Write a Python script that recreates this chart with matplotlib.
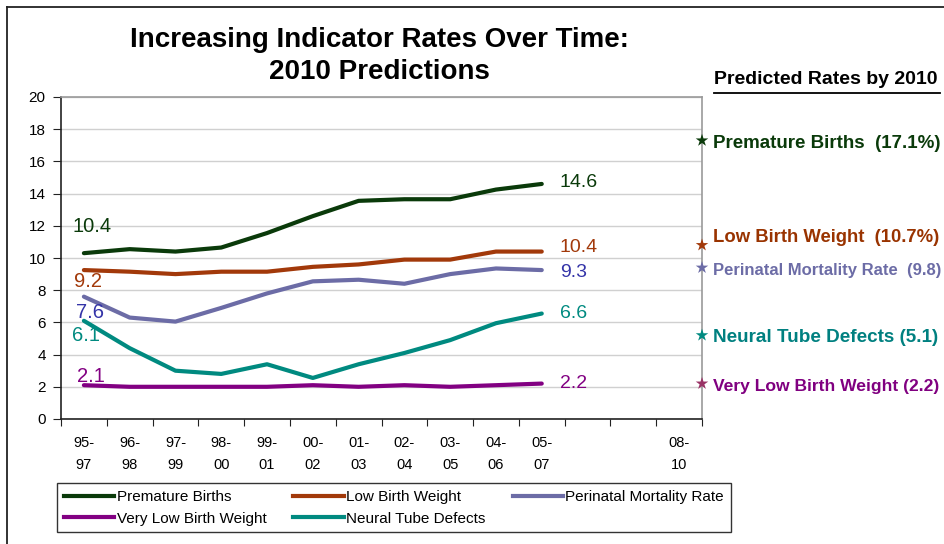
import numpy as np
import matplotlib
matplotlib.use("Agg")
import matplotlib.pyplot as plt
from matplotlib.lines import Line2D

plt.rcParams['font.family'] = ['Liberation Sans', 'DejaVu Sans']

# data
periods = ["95-\n97", "96-\n98", "97-\n99", "98-\n00", "99-\n01", "00-\n02", "01-\n03",
           "02-\n04", "03-\n05", "04-\n06", "05-\n07", "", "", "08-\n10"]

premature = [10.3, 10.55, 10.4, 10.65, 11.55, 12.6, 13.55, 13.65, 13.65, 14.25, 14.6]
low_bw = [9.25, 9.15, 9.0, 9.15, 9.15, 9.45, 9.6, 9.9, 9.9, 10.4, 10.4]
perinatal = [7.6, 6.3, 6.05, 6.9, 7.8, 8.55, 8.65, 8.4, 9.0, 9.35, 9.25]
very_low = [2.1, 2.0, 2.0, 2.0, 2.0, 2.1, 2.0, 2.1, 2.0, 2.1, 2.2]
neural = [6.1, 4.4, 3.0, 2.8, 3.4, 2.55, 3.4, 4.1, 4.9, 5.95, 6.55]

names = ["Premature Births", "Low Birth Weight", "Perinatal Mortality Rate",
         "Very Low Birth Weight", "Neural Tube Defects"]
series = [premature, low_bw, perinatal, very_low, neural]
colors = ["#0a3a0a", "#a2390a", "#6c6ca6", "#820082", "#008a80"]

first_labels = ["10.4", "9.2", "7.6", "2.1", "6.1"]
last_labels = ["14.6", "10.4", "9.3", "2.2", "6.6"]
label_colors = ["#0a3a0a", "#a2390a", "#3434a8", "#820082", "#008a80"]
first_offsets = [(8, 27), (4, -11), (6, -16), (7, 9), (2, -15)]  # pixels
last_offsets = [(18, 1), (18, 4), (18, -2), (18, 0), (18, 0)]

# 2010 predictions (star markers + side text)
pred_text = ["Premature Births  (17.1%)", "Low Birth Weight  (10.7%)",
             "Perinatal Mortality Rate  (9.8)", "Neural Tube Defects (5.1)",
             "Very Low Birth Weight (2.2)"]
pred_star = [17.3, 10.8, 9.4, 5.2, 2.2]
pred_colors = ["#0a3a0a", "#993300", "#6c6ca6", "#008080", "#800080"]
star_colors = ["#0a3a0a", "#a2390a", "#6c6ca6", "#008a80", "#993366"]
pred_text_y = [143, 237, 270, 338, 387]  # figure pixels from top
pred_size = [13.5, 13.3, 12, 13.6, 12.6]

W, H = 944, 544
fig = plt.figure(figsize=(W / 100, H / 100), dpi=100)
ax = fig.add_axes([61 / W, 1 - 419 / H, (702 - 61) / W, (419 - 97) / H])

x = np.arange(len(premature))
for vals, c in zip(series, colors):
    ax.plot(x, vals, color=c, lw=3, solid_capstyle='round', zorder=3)

for vals, txt, c, off in zip(series, first_labels, label_colors, first_offsets):
    ax.annotate(txt, (0, vals[0]), xytext=off, textcoords='offset pixels',
                ha='center', va='center', color=c, fontsize=14.5)
for vals, txt, c, off in zip(series, last_labels, label_colors, last_offsets):
    ax.annotate(txt, (len(vals) - 1, vals[-1]), xytext=off, textcoords='offset pixels',
                ha='left', va='center', color=c, fontsize=14)

ax.scatter([len(periods) - 0.5] * len(pred_star), pred_star, marker='*', s=90,
           c=star_colors, clip_on=False, zorder=5, linewidths=0)

ax.set_xlim(-0.5, len(periods) - 0.5)
ax.set_ylim(0, 20)
ax.set_yticks(np.arange(0, 21, 2))
ax.set_xticks(np.arange(-0.5, len(periods), 1.0))
ax.set_xticklabels([])
ax.set_xticks(np.arange(len(periods)), minor=True)
ax.set_xticklabels(periods, minor=True, fontsize=10.5, linespacing=1.75)
ax.tick_params(axis='x', which='minor', length=0, pad=12)
ax.tick_params(axis='x', which='major', length=5, direction='out', color='#222222')
ax.tick_params(axis='y', length=6, direction='out', labelsize=11, color='#222222', pad=5)
ax.grid(axis='y', color='#d0d0d0', lw=1)
ax.set_axisbelow(True)
for s in ['left', 'bottom']:
    ax.spines[s].set_color('#222222')
    ax.spines[s].set_linewidth(1.2)
for s in ['top', 'right']:
    ax.spines[s].set_color('#999999')
    ax.spines[s].set_linewidth(1.2)

# legend (row-major order via column-major fill)
order = [0, 3, 1, 4, 2]
handles = [Line2D([], [], color=colors[i], lw=3) for i in order]
leg = fig.legend(handles, [names[i] for i in order], ncol=3, loc='upper left',
                 bbox_to_anchor=(57 / W, 1 - 483 / H), frameon=True, fancybox=False,
                 edgecolor='black', fontsize=11,
                 handlelength=3.3, handletextpad=0.15,
                 columnspacing=1.77, borderpad=0.45, labelspacing=0.5, borderaxespad=0)
leg.get_frame().set_linewidth(1.0)

# title
fig.text(379 / W, 1 - 40 / H, "Increasing Indicator Rates Over Time:", ha='center', va='center',
         fontsize=20, fontweight='bold')
fig.text(379 / W, 1 - 72 / H, "2010 Predictions", ha='center', va='center',
         fontsize=20, fontweight='bold')

# side panel
fig.text(714 / W, 1 - 80 / H, "Predicted Rates by 2010", ha='left', va='center',
         fontsize=14, fontweight='bold')
fig.add_artist(Line2D([714 / W, 940 / W], [1 - 93 / H, 1 - 93 / H], color='black', lw=1.3))
for txt, c, yy, fs in zip(pred_text, pred_colors, pred_text_y, pred_size):
    fig.text(713 / W, 1 - yy / H, txt, ha='left', va='center', fontsize=fs,
             fontweight='bold', color=c)

# frame lines (top and left)
fig.add_artist(Line2D([7 / W, 1], [1 - 7 / H, 1 - 7 / H], color='#222222', lw=1.3))
fig.add_artist(Line2D([7 / W, 7 / W], [0, 1 - 7 / H], color='#222222', lw=1.3))

fig.savefig("out.png", dpi=100)
